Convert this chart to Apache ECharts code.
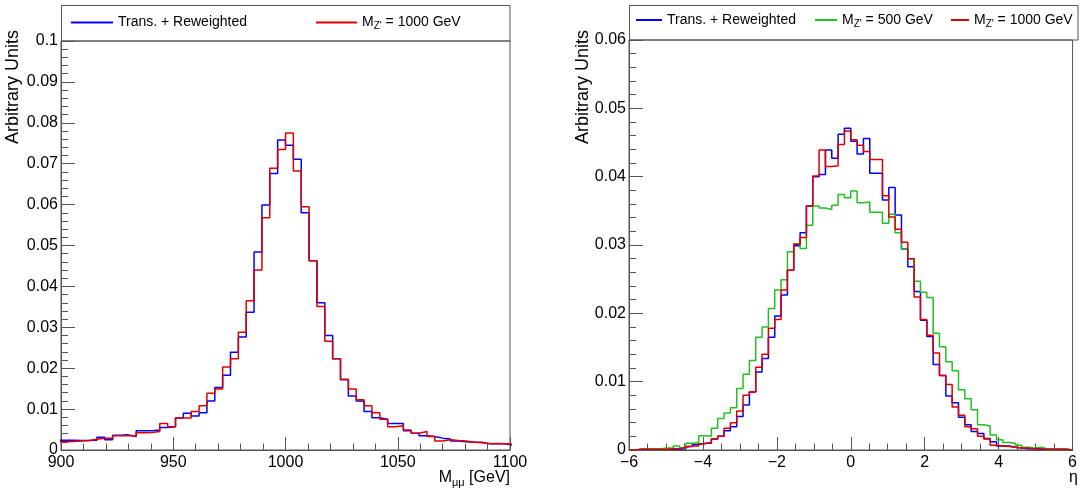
<!DOCTYPE html>
<html>
<head>
<meta charset="utf-8">
<script src="https://cdn.jsdelivr.net/npm/echarts@6/dist/echarts.min.js"></script>
<style>
html,body{margin:0;padding:0;background:#fff;}
#c{width:1080px;height:488px;}
</style>
</head>
<body>
<div id="c"></div>
<script>
// ---- Left panel: dimuon invariant mass (bins of 3.5 GeV, edge at 1000 GeV) ----
const massBinLow = 898.5;
const massBinWidth = 3.5;
const massTrans = [
  0.0024,0.0024,0.0023,0.0023,0.0024,0.0031,0.0025,0.0036,0.0037,0.0033,
  0.0047,0.0047,0.0049,0.0055,0.0057,0.0078,0.0090,0.0083,0.0091,0.0120,
  0.0153,0.0183,0.0239,0.0276,0.0337,0.0484,0.0599,0.0676,0.0758,
  0.0745,0.0711,0.0580,0.0463,0.0360,0.0280,0.0223,0.0172,0.0132,0.0120,
  0.0094,0.0079,0.0075,0.0065,0.0065,0.0047,0.0041,0.0035,0.0033,0.0029,
  0.0027,0.0022,0.0020,0.0019,0.0019,0.0015,0.0016,0.0015,0.0012
];
const massZ1000 = [
  0.0020,0.0021,0.0022,0.0023,0.0026,0.0029,0.0029,0.0035,0.0035,0.0034,
  0.0042,0.0043,0.0045,0.0065,0.0057,0.0078,0.0078,0.0094,0.0108,0.0139,
  0.0149,0.0203,0.0223,0.0288,0.0365,0.0440,0.0568,0.0689,0.0735,
  0.0775,0.0682,0.0595,0.0463,0.0351,0.0266,0.0223,0.0173,0.0149,0.0123,
  0.0108,0.0091,0.0075,0.0057,0.0059,0.0049,0.0041,0.0045,0.0033,0.0022,
  0.0025,0.0023,0.0022,0.0019,0.0018,0.0016,0.0015,0.0015,0.0014
];

// ---- Right panel: pseudorapidity (70 bins from -6 to 6) ----
const etaBinLow = -6;
const etaBinWidth = 12 / 70;
const etaTrans = [
  0.0000,0.0001,0.0001,0.0001,0.0001,0.0001,0.0001,0.0001,0.0002,0.0005,
  0.0008,0.0010,0.0010,0.0016,0.0020,0.0028,0.0034,0.0049,0.0066,0.0085,
  0.0114,0.0134,0.0165,0.0196,0.0227,0.0263,0.0299,0.0318,0.0357,0.0400,
  0.0403,0.0439,0.0427,0.0462,0.0471,0.0452,0.0433,0.0456,0.0405,0.0405,
  0.0366,0.0384,0.0344,0.0294,0.0268,0.0232,0.0190,0.0166,0.0125,0.0109,
  0.0079,0.0069,0.0048,0.0037,0.0027,0.0024,0.0017,0.0012,0.0006,0.0006,
  0.0004,0.0003,0.0002,0.0002,0.0001,0.0001,0.0001,0.0001,0.0001,0.0000
];
const etaZ500 = [
  0.0000,0.0001,0.0001,0.0002,0.0002,0.0003,0.0003,0.0006,0.0003,0.0010,
  0.0011,0.0021,0.0020,0.0032,0.0046,0.0054,0.0062,0.0090,0.0111,0.0131,
  0.0165,0.0180,0.0207,0.0234,0.0249,0.0290,0.0302,0.0295,0.0329,0.0357,
  0.0354,0.0352,0.0358,0.0374,0.0369,0.0379,0.0362,0.0363,0.0348,0.0348,
  0.0332,0.0345,0.0318,0.0294,0.0280,0.0247,0.0231,0.0223,0.0171,0.0151,
  0.0129,0.0116,0.0088,0.0075,0.0059,0.0037,0.0035,0.0022,0.0015,0.0011,
  0.0010,0.0007,0.0004,0.0003,0.0004,0.0002,0.0001,0.0001,0.0001,0.0000
];
const etaZ1000 = [
  0.0000,0.0001,0.0001,0.0001,0.0001,0.0001,0.0002,0.0002,0.0004,0.0006,
  0.0006,0.0009,0.0011,0.0016,0.0020,0.0032,0.0040,0.0057,0.0080,0.0085,
  0.0121,0.0140,0.0178,0.0191,0.0234,0.0263,0.0301,0.0311,0.0357,0.0401,
  0.0439,0.0415,0.0416,0.0447,0.0467,0.0454,0.0446,0.0437,0.0425,0.0425,
  0.0372,0.0341,0.0323,0.0304,0.0280,0.0224,0.0191,0.0168,0.0142,0.0109,
  0.0096,0.0063,0.0051,0.0034,0.0031,0.0020,0.0016,0.0007,0.0006,0.0005,
  0.0004,0.0003,0.0003,0.0002,0.0002,0.0001,0.0001,0.0001,0.0001,0.0000
];

const nameTrans = 'Trans. + Reweighted';
const name1000 = "M_Z' = 1000 GeV";
const name500 = "M_Z' = 500 GeV";

const FONT = '"Liberation Sans", Arial, Helvetica, sans-serif';
const AX = '#555';
const BLUE = '#0000ff', RED = '#dd0000', GREEN = '#22c022';

function stepData(low, w, vals) {
  const d = vals.map((v, i) => [low + i * w, v]);
  d.push([low + vals.length * w, vals[vals.length - 1]]);
  return d;
}

function xAxisCfg(gi, min, max, interval, minorSplit, fmt) {
  return {
    type: 'value', gridIndex: gi, min: min, max: max, interval: interval,
    axisLine: {show: true, onZero: false, lineStyle: {color: AX, width: 1}},
    axisTick: {show: true, inside: true, length: 13, lineStyle: {color: AX}},
    minorTick: {show: true, splitNumber: minorSplit, length: 6.5, lineStyle: {color: AX}},
    splitLine: {show: false}, minorSplitLine: {show: false},
    axisLabel: {color: '#000', fontFamily: FONT, fontSize: 16, margin: 5, formatter: fmt,
                showMinLabel: true, showMaxLabel: true}
  };
}
function yAxisCfg(gi, max) {
  return {
    type: 'value', gridIndex: gi, min: 0, max: max, interval: 0.01,
    axisLine: {show: true, onZero: false, lineStyle: {color: AX, width: 1}},
    axisTick: {show: true, inside: true, length: 14, lineStyle: {color: AX}},
    minorTick: {show: true, splitNumber: 5, length: 7, lineStyle: {color: AX}},
    splitLine: {show: false}, minorSplitLine: {show: false},
    axisLabel: {color: '#000', fontFamily: FONT, fontSize: 16, margin: 3,
                formatter: function (v) { return String(+v.toFixed(4)); },
                showMinLabel: true, showMaxLabel: true}
  };
}
function series(name, gi, data, color) {
  return {
    type: 'line', name: name, xAxisIndex: gi, yAxisIndex: gi, data: data, step: 'end',
    showSymbol: false, symbol: 'none', color: color,
    lineStyle: {width: 1.5, color: color}, clip: true, animation: false
  };
}
const richLegend = {
  m: {fontFamily: FONT, fontSize: 14, lineHeight: 18, color: '#000'},
  s: {fontFamily: FONT, fontSize: 10, lineHeight: 8, verticalAlign: 'bottom', color: '#000'}
};
function legendFmt(name) {
  if (name.indexOf('M_') === 0) return '{m|M}{s|Z\'}{m|' + name.slice(4) + '}';
  return name;
}
function legendCfg(name, left, top, w) {
  return {
    data: [name], left: left, top: top, itemWidth: w, itemHeight: 2, icon: 'rect', padding: 0,
    selectedMode: false, formatter: legendFmt,
    textStyle: {fontFamily: FONT, fontSize: 14, color: '#000', lineHeight: 18, rich: richLegend}
  };
}
function plainFmt(v) { return String(v); }
function minusFmt(v) { return v < 0 ? '\u2212' + Math.abs(v) : String(v); }

const chart = echarts.init(document.getElementById('c'), null, {renderer: 'canvas'});
chart.setOption({
  animation: false,
  backgroundColor: '#fff',
  grid: [
    {left: 61, top: 41, width: 449, height: 409, show: true, borderColor: AX, borderWidth: 1, backgroundColor: 'transparent'},
    {left: 629, top: 40, width: 449, height: 410, show: true, borderColor: AX, borderWidth: 1, backgroundColor: 'transparent'}
  ],
  xAxis: [
    xAxisCfg(0, 900, 1100, 50, 5, plainFmt),
    xAxisCfg(1, -6, 6, 2, 4, minusFmt)
  ],
  yAxis: [yAxisCfg(0, 0.1), yAxisCfg(1, 0.06)],
  legend: [
    legendCfg(nameTrans, 71, 13.5, 42),
    legendCfg(name1000, 316, 13.5, 41),
    legendCfg(nameTrans, 636, 11, 26),
    legendCfg(name500, 815, 11, 22),
    legendCfg(name1000, 951, 11, 18)
  ],
  graphic: [
    {type: 'rect', silent: true, shape: {x: 61.5, y: 5.5, width: 448.5, height: 35.5},
     style: {fill: 'none', stroke: AX, lineWidth: 1}},
    {type: 'rect', silent: true, shape: {x: 629.5, y: 5.5, width: 448.5, height: 34.5},
     style: {fill: 'none', stroke: AX, lineWidth: 1}},
    {type: 'text', silent: true, x: 13, y: 30, rotation: Math.PI / 2,
     style: {text: 'Arbitrary Units', fontFamily: FONT, fontSize: 18, fill: '#000', align: 'right', verticalAlign: 'middle'}},
    {type: 'text', silent: true, x: 583, y: 30, rotation: Math.PI / 2,
     style: {text: 'Arbitrary Units', fontFamily: FONT, fontSize: 18, fill: '#000', align: 'right', verticalAlign: 'middle'}},
    {type: 'text', silent: true, x: 510, y: 478,
     style: {text: '{m|M}{s|\u03bc\u03bc}{m| [GeV]}', align: 'right', verticalAlign: 'middle',
             rich: {m: {fontFamily: FONT, fontSize: 16, lineHeight: 20, fill: '#000', color: '#000'},
                    s: {fontFamily: FONT, fontSize: 11, lineHeight: 9, verticalAlign: 'bottom', fill: '#000', color: '#000'}}}},
    {type: 'text', silent: true, x: 1078, y: 478,
     style: {text: '\u03b7', fontFamily: FONT, fontSize: 16, fill: '#000', align: 'right', verticalAlign: 'middle'}}
  ],
  series: [
    series(nameTrans, 0, stepData(massBinLow, massBinWidth, massTrans), BLUE),
    series(name1000, 0, stepData(massBinLow, massBinWidth, massZ1000), RED),
    series(nameTrans, 1, stepData(etaBinLow, etaBinWidth, etaTrans), BLUE),
    series(name500, 1, stepData(etaBinLow, etaBinWidth, etaZ500), GREEN),
    series(name1000, 1, stepData(etaBinLow, etaBinWidth, etaZ1000), RED)
  ]
});
</script>
</body>
</html>
